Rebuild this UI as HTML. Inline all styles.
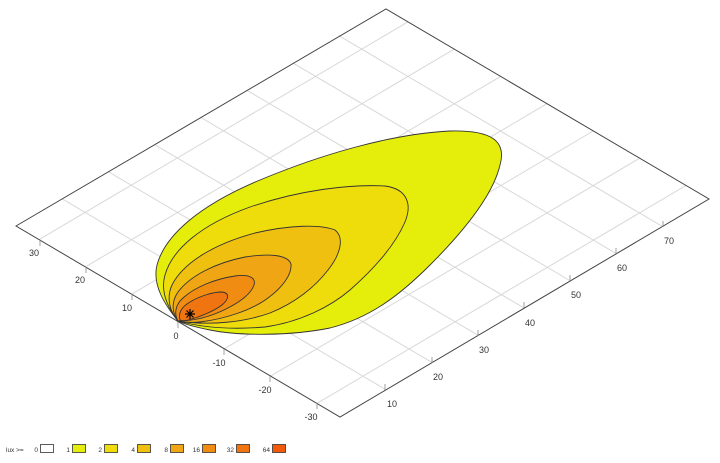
<!DOCTYPE html>
<html><head><meta charset="utf-8"><style>
html,body{margin:0;padding:0;background:#fff;}
svg{display:block;font-family:"Liberation Sans",sans-serif;}
</style></head><body>
<svg width="720" height="463" viewBox="0 0 720 463" xmlns="http://www.w3.org/2000/svg">
<g stroke="#d8d8d8" stroke-width="1" fill="none">
<line x1="386.1" y1="389.8" x2="62.1" y2="198.8"/>
<line x1="432.2" y1="362.6" x2="108.2" y2="171.6"/>
<line x1="478.3" y1="335.4" x2="154.3" y2="144.4"/>
<line x1="524.4" y1="308.2" x2="200.4" y2="117.2"/>
<line x1="570.5" y1="281.0" x2="246.5" y2="90.0"/>
<line x1="616.6" y1="253.8" x2="292.6" y2="62.8"/>
<line x1="662.7" y1="226.6" x2="338.7" y2="35.6"/>
<line x1="316.9" y1="403.4" x2="685.8" y2="185.6"/>
<line x1="270.6" y1="376.1" x2="639.5" y2="158.3"/>
<line x1="224.3" y1="348.8" x2="593.2" y2="131.0"/>
<line x1="178.0" y1="321.5" x2="546.9" y2="103.7"/>
<line x1="131.7" y1="294.2" x2="500.6" y2="76.4"/>
<line x1="85.4" y1="266.9" x2="454.3" y2="49.1"/>
<line x1="39.1" y1="239.6" x2="408.0" y2="21.8"/>
</g>
<polygon points="16,226 386,9 709,199 340,417" fill="none" stroke="#444" stroke-width="1"/>
<g stroke="#333" stroke-width="0.9">
<path fill="#e5ee0b" d="M178,321 C165,305 152,285 157,265 C165,235 200,205 260,180 C320,155 390,134 450,131 C490,130 507,140 500,165 C493,195 465,230 430,265 C400,295 370,318 330,328 C290,336 240,336 210,330 C195,327 184,324 178,321 Z"/>
<path fill="#eedc0b" d="M178,321 C168,308 160,292 165,275 C172,250 200,225 250,207 C300,190 350,184 385,186 C408,189 412,205 405,222 C395,245 375,268 350,290 C330,307 300,322 265,327 C230,330 200,327 178,321 Z"/>
<path fill="#f0c011" d="M178,321 C170,312 166,298 172,285 C182,265 210,245 255,233 C290,225 320,224 335,230 C345,238 340,255 328,270 C315,287 295,303 270,313 C245,322 210,326 178,321 Z"/>
<path fill="#f0a514" d="M178,321 C172,313 171,302 178,292 C190,276 215,263 245,257 C270,253 288,255 291,264 C292,274 283,287 268,298 C252,310 225,319 200,322 C190,323 183,322 178,321 Z"/>
<path fill="#f08c12" d="M178,321 C174,314 175,305 183,298 C195,287 215,279 235,276 C250,274 256,278 254,285 C251,294 240,302 226,309 C212,316 195,321 178,321 Z"/>
<path fill="#f07510" d="M180,320 C178,314 181,307 190,302 C200,296 213,292 222,292 C230,293 229,299 222,305 C214,311 200,317 188,320 C184,321 182,321 180,320 Z"/>
</g>
<g stroke="#000" stroke-width="1.2">
<line x1="185" y1="314" x2="195" y2="314"/>
<line x1="190" y1="309" x2="190" y2="319"/>
<line x1="186.5" y1="310.5" x2="193.5" y2="317.5"/>
<line x1="186.5" y1="317.5" x2="193.5" y2="310.5"/>
</g>
<g stroke="#888" stroke-width="0.8">
<line x1="385" y1="390" x2="385" y2="384"/>
<line x1="432" y1="363" x2="432" y2="357"/>
<line x1="478" y1="336" x2="478" y2="330"/>
<line x1="524" y1="308" x2="524" y2="302"/>
<line x1="570" y1="281" x2="570" y2="275"/>
<line x1="616" y1="254" x2="616" y2="248"/>
<line x1="663" y1="227" x2="663" y2="221"/>
<line x1="40" y1="240" x2="40" y2="246"/>
<line x1="86" y1="267" x2="86" y2="273"/>
<line x1="132" y1="294" x2="132" y2="300"/>
<line x1="178" y1="322" x2="178" y2="328"/>
<line x1="224" y1="349" x2="224" y2="355"/>
<line x1="270" y1="376" x2="270" y2="382"/>
<line x1="317" y1="403" x2="317" y2="409"/>
</g>
<g font-size="9" fill="#333">
<text x="387" y="407">10</text>
<text x="433" y="380">20</text>
<text x="479" y="353">30</text>
<text x="525" y="326">40</text>
<text x="571" y="298">50</text>
<text x="617" y="271">60</text>
<text x="664" y="244">70</text>
<g text-anchor="middle">
<text x="34" y="256">30</text>
<text x="80" y="283">20</text>
<text x="127" y="311">10</text>
<text x="176" y="339">0</text>
<text x="219" y="366">-10</text>
<text x="265" y="393">-20</text>
<text x="311" y="420">-30</text>
</g>
</g>
<g font-size="6.5" fill="#333">
<text x="6" y="452">lux &gt;=</text>
<g text-anchor="end">
<text x="38" y="452">0</text><text x="70" y="452">1</text><text x="102" y="452">2</text><text x="135" y="452">4</text>
<text x="168" y="452">8</text><text x="200" y="452">16</text><text x="234" y="452">32</text><text x="270" y="452">64</text>
</g>
</g>
<g stroke="#333" stroke-width="0.8">
<rect x="40.5" y="444.5" width="13" height="8" fill="#fff"/>
<rect x="72.5" y="444.5" width="13" height="8" fill="#e5ee0b"/>
<rect x="104.5" y="444.5" width="13" height="8" fill="#eedc0b"/>
<rect x="137.5" y="444.5" width="13" height="8" fill="#f0c011"/>
<rect x="170.5" y="444.5" width="13" height="8" fill="#f0a514"/>
<rect x="202.5" y="444.5" width="13" height="8" fill="#f08c12"/>
<rect x="236.5" y="444.5" width="13" height="8" fill="#f07510"/>
<rect x="272.5" y="444.5" width="13" height="8" fill="#f05a0a"/>
</g>
</svg>
</body></html>
